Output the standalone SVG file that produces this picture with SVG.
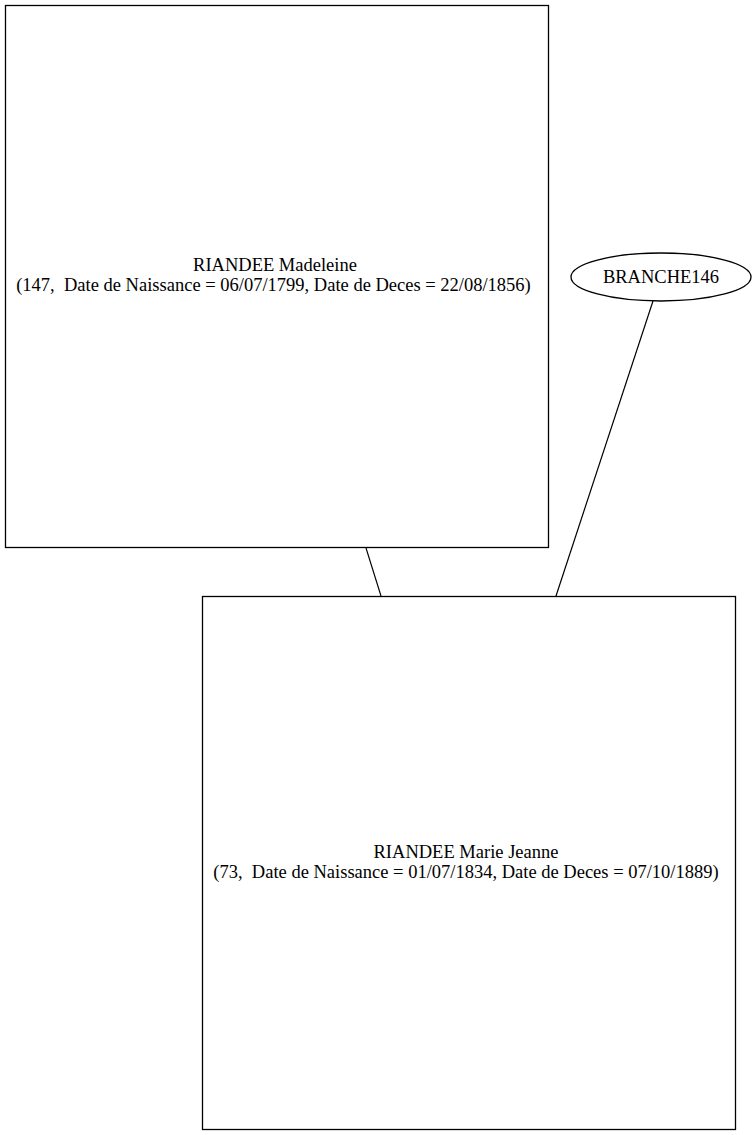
<svg xmlns="http://www.w3.org/2000/svg" width="755" height="1135" viewBox="0 0 755 1135">
<style>
.n{fill:none;stroke:#000;stroke-width:1.3}
.t{font-family:"Liberation Serif","Times New Roman",serif;font-size:18.5px;text-anchor:middle;fill:#000;white-space:pre}
.e{stroke:#000;stroke-width:1.2;fill:none}
</style>
<rect width="755" height="1135" fill="#fff"/>
<g id="connectors">
<line class="e" x1="366" y1="548" x2="381" y2="596"/>
<line class="e" x1="653" y1="301" x2="556" y2="596"/>
</g>
<g id="madeleine">
<rect class="n" x="5.5" y="5.5" width="543" height="542"/>
<text class="t" x="275" y="271">RIANDEE Madeleine</text>
<text class="t" x="273.5" y="291" xml:space="preserve">(147,  Date de Naissance = 06/07/1799, Date de Deces = 22/08/1856)</text>
</g>
<g id="branche146">
<ellipse class="n" cx="661" cy="277" rx="90" ry="24"/>
<text class="t" x="661" y="283">BRANCHE146</text>
</g>
<g id="mariejeanne">
<rect class="n" x="202.5" y="596.5" width="533" height="533"/>
<text class="t" x="466" y="858">RIANDEE Marie Jeanne</text>
<text class="t" x="466" y="878" xml:space="preserve">(73,  Date de Naissance = 01/07/1834, Date de Deces = 07/10/1889)</text>
</g>
</svg>
